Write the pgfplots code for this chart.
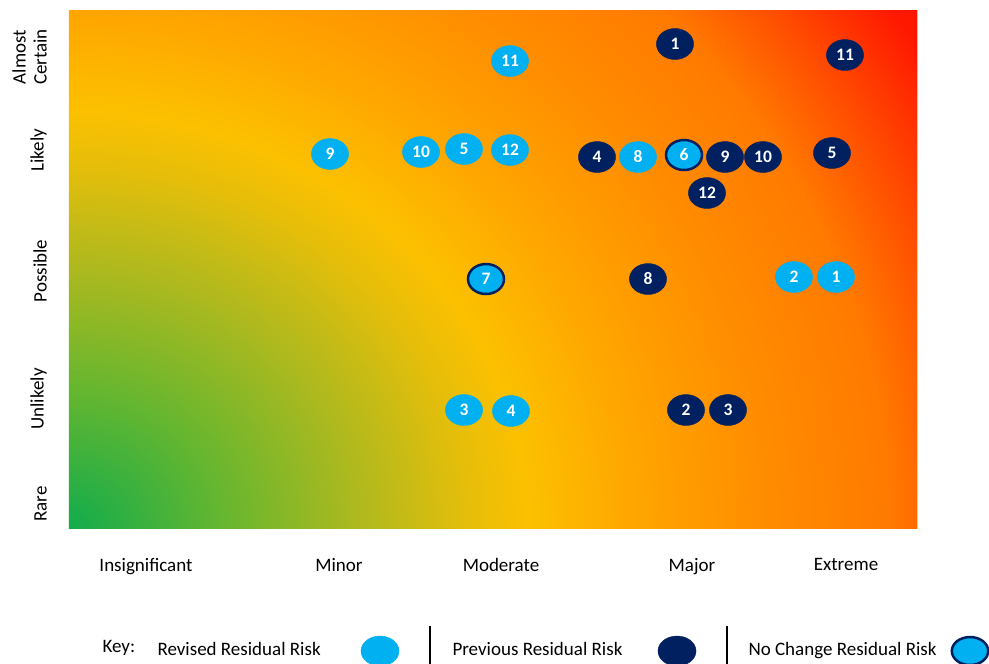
\documentclass[border=0pt]{standalone}
\usepackage{pgfplots}
\pgfplotsset{compat=1.18}
\usepackage{fontspec}
\setmainfont{Carlito}

\definecolor{revised}{RGB}{0,176,240}
\definecolor{previous}{RGB}{0,32,96}
% background colour stops (radial, from bottom-left corner)
\definecolor{s0}{RGB}{18,172,76}
\definecolor{s1}{RGB}{100,182,48}
\definecolor{s2}{RGB}{175,185,30}
\definecolor{s3}{RGB}{230,190,10}
\definecolor{s4}{RGB}{252,192,0}
\definecolor{s5}{RGB}{255,165,0}
\definecolor{s6}{RGB}{255,140,0}
\definecolor{s7}{RGB}{255,122,0}
\definecolor{s8}{RGB}{255,80,0}
\definecolor{s9}{RGB}{255,25,0}
\definecolor{s10}{RGB}{255,10,0}
\pgfdeclareradialshading{risk}{\pgfpointorigin}{color(0bp)=(s0); color(3.4bp)=(s1); color(6.6bp)=(s2); color(9.1bp)=(s3); color(10.45bp)=(s4); color(12.95bp)=(s5); color(15.9bp)=(s6); color(18.64bp)=(s7); color(20.45bp)=(s8); color(22.7bp)=(s9); color(24.1bp)=(s10); color(75bp)=(s10)}

\newcommand{\lbl}{\fontsize{19}{21}\selectfont}

\begin{document}
\begin{tikzpicture}
\useasboundingbox (0,0) rectangle (989pt,-664pt);
\begin{axis}[
    at={(69pt,-528pt)}, anchor=south west,
    scale only axis, width=848pt, height=518pt,
    xmin=69, xmax=917, ymin=10, ymax=528, y dir=reverse,
    clip=false,
    axis line style={draw=black!15},
    major tick length=0pt,
    xtick={146,339,501,692,846},
    xticklabels={Insignificant,Minor,Moderate,Major,Extreme},
    xticklabel style={font=\lbl, yshift=-27pt},
    ytick={55,148,269,397,502},
    yticklabels={{Almost\\Certain},Likely,Possible,Unlikely,Rare},
    yticklabel style={font=\lbl, rotate=90, anchor=south, align=center, inner sep=0pt, xshift=-2pt},
    yticklabel shift=22pt,
    nodes near coords style={anchor=center, text=white, font=\fontsize{17.5}{17.5}\selectfont\bfseries},
    point meta=explicit symbolic,
    bubble/.style={only marks, mark=*, mark size=15.5pt, nodes near coords},
]
% background gradient
\begin{scope}
\clip (axis cs:69,10) rectangle (axis cs:917,528);
\shade[shading=risk] (axis cs:-1031,-472) rectangle (axis cs:1169,1528);
\end{scope}

% previous residual risk
\addplot[bubble, mark options={xscale=1.2, fill=previous, draw=previous}]
coordinates {
(675,44)[1] (845,55)[11] (597,157)[4] (725,157)[9] (763,157)[10]
(707,193)[12] (832,153)[5] (648,279)[8] (686,410)[2] (728,410)[3]
};
% revised residual risk
\addplot[bubble, mark options={xscale=1.2, fill=revised, draw=revised}]
coordinates {
(510,61)[11] (330,154)[9] (421,152)[10] (464,149)[5] (510,150)[12]
(638,157)[8] (794,277)[2] (836,277)[1] (464,410)[3] (511,411)[4]
};
% no change residual risk
\addplot[bubble, mark size=15pt, mark options={xscale=1.2, fill=revised, draw=previous, line width=2.5pt}]
coordinates {
(684,155)[6] (486,279)[7]
};

% key
\addplot[only marks, mark=*, mark size=15pt,
    mark options={xscale=1.27, fill=revised, draw=revised}]
coordinates {(380,651)};
\addplot[only marks, mark=*, mark size=15pt,
    mark options={xscale=1.27, fill=previous, draw=previous}]
coordinates {(677,651)};
\addplot[only marks, mark=*, mark size=14pt,
    mark options={xscale=1.3, fill=revised, draw=previous, line width=2.5pt}]
coordinates {(970,651)};

\node[anchor=base west, font=\lbl] at (axis cs:99,652) {Key:};
\node[anchor=base west, font=\lbl] at (axis cs:154,655) {Revised Residual Risk};
\node[anchor=base west, font=\lbl] at (axis cs:449,655) {Previous Residual Risk};
\node[anchor=base west, font=\lbl] at (axis cs:745,655) {No Change Residual Risk};
\draw[black, line width=1.5pt] (axis cs:430,626) -- (axis cs:430,670);
\draw[black, line width=1.5pt] (axis cs:727,626) -- (axis cs:727,670);
\end{axis}
\end{tikzpicture}
\end{document}
